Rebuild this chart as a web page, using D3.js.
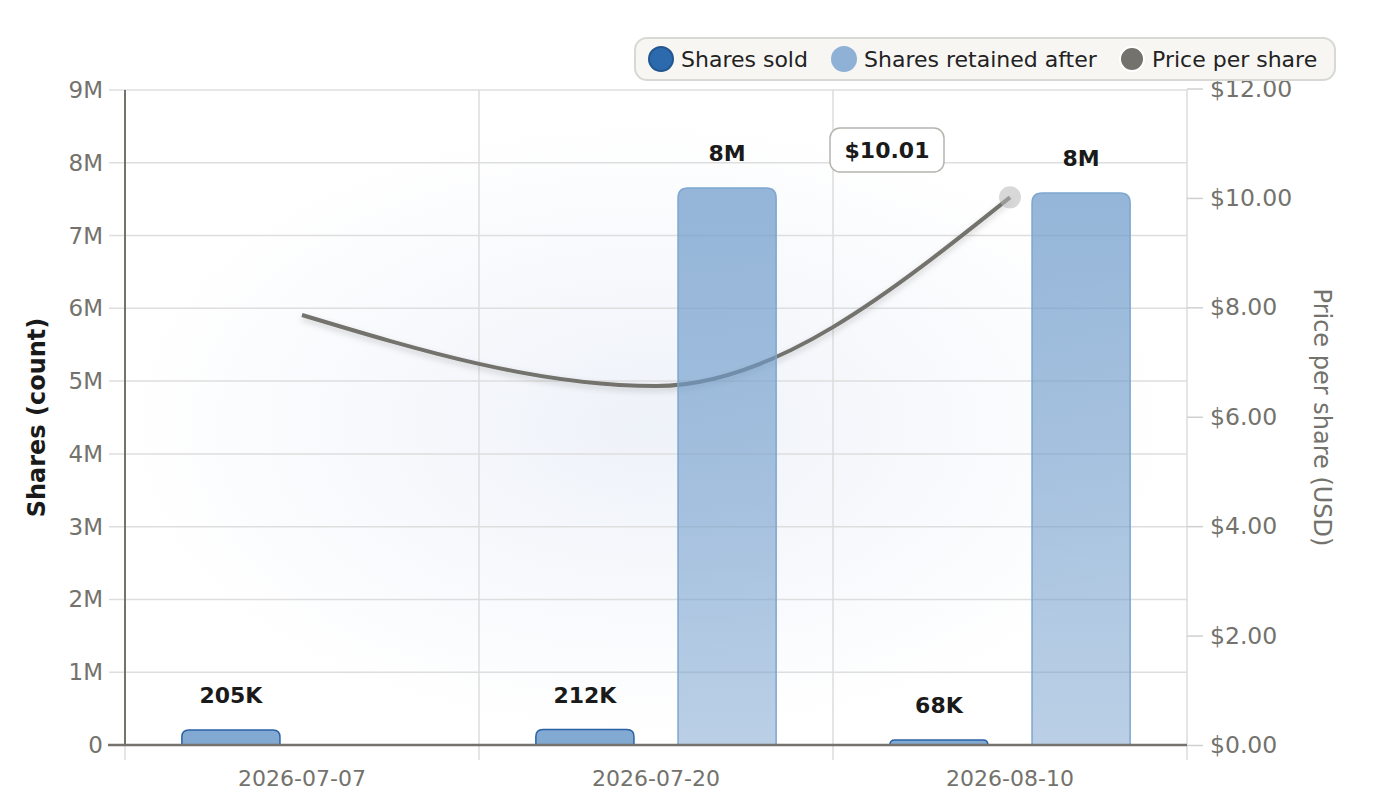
<!DOCTYPE html>
<html>
<head>
<meta charset="utf-8">
<script src="https://cdn.jsdelivr.net/npm/d3@7"></script>
<style>
  body { margin: 0; background: #fff; font-family: "DejaVu Sans", sans-serif; }
</style>
</head>
<body>
<script>
// chart data
var dates = ["2026-07-07", "2026-07-20", "2026-08-10"];
var sharesSold = [205000, 212000, 68000];
var sharesRetained = [null, 7653000, 7585000];
var pricePerShare = [7.86, 6.56, 10.01];
var shareTicks = [0, 1e6, 2e6, 3e6, 4e6, 5e6, 6e6, 7e6, 8e6, 9e6];
var priceTicks = [0, 2, 4, 6, 8, 10, 12];

var width = 1380, height = 808;
var margin = {top: 90, right: 193, bottom: 63, left: 125};

var svg = d3.select("body").append("svg")
    .attr("width", width)
    .attr("height", height);

var defs = svg.append("defs");

// soft background glow
var bg = defs.append("radialGradient").attr("id", "bgGlow")
    .attr("cx", "47%").attr("cy", "53%").attr("r", "38%");
bg.append("stop").attr("offset", "0%").attr("stop-color", "#eef2f9");
bg.append("stop").attr("offset", "100%").attr("stop-color", "#ffffff");
svg.append("rect").attr("width", width).attr("height", height).attr("fill", "url(#bgGlow)");

var retGrad = defs.append("linearGradient").attr("id", "retGrad")
    .attr("x1", 0).attr("y1", 0).attr("x2", 0).attr("y2", 1);
retGrad.append("stop").attr("offset", "0%").attr("stop-color", "rgb(112,156,203)").attr("stop-opacity", 0.74);
retGrad.append("stop").attr("offset", "100%").attr("stop-color", "rgb(112,156,203)").attr("stop-opacity", 0.48);

var shadow = defs.append("filter").attr("id", "lineShadow")
    .attr("x", "-10%").attr("y", "-30%").attr("width", "120%").attr("height", "160%");
shadow.append("feDropShadow").attr("dx", 0).attr("dy", 3).attr("stdDeviation", 3)
    .attr("flood-color", "#000").attr("flood-opacity", 0.18);

// scales
var x0 = d3.scaleBand()
    .domain(dates)
    .range([margin.left, width - margin.right]);

var x1 = d3.scaleBand()
    .domain(["sold", "retained"])
    .range([0, x0.bandwidth()])
    .paddingInner(0.31)
    .paddingOuter(0.4);

var yL = d3.scaleLinear().domain([0, 9e6]).range([height - margin.bottom, margin.top]);
var yR = d3.scaleLinear().domain([0, 12]).range([height - margin.bottom, margin.top - 1.5]);

var plotRight = width - margin.right;
var plotBottom = height - margin.bottom;

// horizontal grid
svg.append("g")
    .selectAll("line")
    .data(shareTicks)
    .enter().append("line")
    .attr("x1", margin.left - 16).attr("x2", plotRight)
    .attr("y1", d => yL(d)).attr("y2", d => yL(d))
    .attr("stroke", "#dedede").attr("stroke-width", 1.5);

// vertical band separators
var edges = dates.map(d => x0(d)).concat([plotRight]);
svg.append("g")
    .selectAll("line")
    .data(edges)
    .enter().append("line")
    .attr("x1", d => d).attr("x2", d => d)
    .attr("y1", margin.top).attr("y2", plotBottom + 15)
    .attr("stroke", "#dcdcdc").attr("stroke-width", 1.5);

// left axis
var fmtM = d => d === 0 ? "0" : (d / 1e6) + "M";
svg.append("g")
    .selectAll("text")
    .data(shareTicks)
    .enter().append("text")
    .attr("x", margin.left - 22)
    .attr("y", d => yL(d))
    .attr("dy", "0.35em")
    .attr("text-anchor", "end")
    .attr("font-size", 23)
    .attr("fill", "#73726c")
    .text(fmtM);

svg.append("line")
    .attr("x1", margin.left).attr("x2", margin.left)
    .attr("y1", margin.top).attr("y2", plotBottom)
    .attr("stroke", "#73726c").attr("stroke-width", 2);

// right axis
var rightAxis = d3.axisRight(yR)
    .tickValues(priceTicks)
    .tickSize(16)
    .tickPadding(7)
    .tickFormat(d3.format("$.2f"));
var gR = svg.append("g")
    .attr("transform", "translate(" + plotRight + ",0)")
    .call(rightAxis);
gR.select(".domain").remove();
gR.selectAll(".tick line").attr("stroke", "#d0d0d0").attr("stroke-width", 1.5);
gR.selectAll(".tick text")
    .attr("font-family", "DejaVu Sans")
    .attr("font-size", 23.5)
    .attr("fill", "#73726c");

// bottom axis labels
svg.append("g")
    .selectAll("text")
    .data(dates)
    .enter().append("text")
    .attr("x", d => x0(d) + x0.bandwidth() / 2)
    .attr("y", plotBottom + 41)
    .attr("text-anchor", "middle")
    .attr("font-size", 22)
    .attr("fill", "#73726c")
    .text(d => d);

// axis titles
svg.append("text")
    .attr("transform", "translate(45," + ((margin.top + plotBottom) / 2) + ") rotate(-90)")
    .attr("text-anchor", "middle")
    .attr("font-size", 24)
    .attr("font-weight", "bold")
    .attr("fill", "#1a1a1a")
    .text("Shares (count)");

svg.append("text")
    .attr("transform", "translate(1314," + ((margin.top + plotBottom) / 2) + ") rotate(90)")
    .attr("text-anchor", "middle")
    .attr("font-size", 24)
    .attr("fill", "#73726c")
    .text("Price per share (USD)");

// price line
var priceData = dates.map((d, i) => ({date: d, value: pricePerShare[i]}));
var line = d3.line()
    .x(d => x0(d.date) + x0.bandwidth() / 2)
    .y(d => yR(d.value))
    .curve(d3.curveMonotoneX);

svg.append("path")
    .datum(priceData)
    .attr("d", line)
    .attr("fill", "none")
    .attr("stroke", "#73726c")
    .attr("stroke-width", 4)
    .attr("filter", "url(#lineShadow)");

var last = priceData[priceData.length - 1];
svg.append("circle")
    .attr("cx", x0(last.date) + x0.bandwidth() / 2)
    .attr("cy", yR(last.value))
    .attr("r", 11)
    .attr("fill", "#b8b8b8")
    .attr("opacity", 0.55);

// bars with rounded tops
function topRounded(x, y, w, h, r) {
    r = Math.min(r, h, w / 2);
    return "M" + x + "," + (y + h) +
        "V" + (y + r) +
        "Q" + x + "," + y + " " + (x + r) + "," + y +
        "H" + (x + w - r) +
        "Q" + (x + w) + "," + y + " " + (x + w) + "," + (y + r) +
        "V" + (y + h) + "Z";
}

var fmtLabel = v => v >= 1e6 ? Math.round(v / 1e6) + "M" : Math.round(v / 1e3) + "K";

var soldData = dates.map((d, i) => ({date: d, value: sharesSold[i]}));
var retData = dates.map((d, i) => ({date: d, value: sharesRetained[i]})).filter(d => d.value != null);

svg.append("g").selectAll("path")
    .data(soldData)
    .enter().append("path")
    .attr("d", d => topRounded(x0(d.date) + x1("sold"), yL(d.value), x1.bandwidth(), plotBottom - yL(d.value), 7))
    .attr("fill", "#82a9d1")
    .attr("stroke", "#2a62a6")
    .attr("stroke-width", 1.5);

svg.append("g").selectAll("path")
    .data(retData)
    .enter().append("path")
    .attr("d", d => topRounded(x0(d.date) + x1("retained"), yL(d.value), x1.bandwidth(), plotBottom - yL(d.value), 10))
    .attr("fill", "url(#retGrad)")
    .attr("stroke", "#7ea6cf")
    .attr("stroke-width", 1.5);

// bar labels
var labelData = soldData.map(d => ({date: d.date, value: d.value, key: "sold"}))
    .concat(retData.map(d => ({date: d.date, value: d.value, key: "retained"})));
svg.append("g").selectAll("text")
    .data(labelData)
    .enter().append("text")
    .attr("x", d => x0(d.date) + x1(d.key) + x1.bandwidth() / 2)
    .attr("y", d => yL(d.value) - 27)
    .attr("text-anchor", "middle")
    .attr("font-size", 22)
    .attr("font-weight", "bold")
    .attr("fill", "#1a1a1a")
    .text(d => fmtLabel(d.value));

// bottom axis line
svg.append("line")
    .attr("x1", margin.left - 17).attr("x2", plotRight)
    .attr("y1", plotBottom).attr("y2", plotBottom)
    .attr("stroke", "#73726c").attr("stroke-width", 2.5);

// callout for the last price
var callout = svg.append("g").attr("transform", "translate(887,150)");
callout.append("rect")
    .attr("x", -57).attr("y", -22).attr("width", 114).attr("height", 44)
    .attr("rx", 10)
    .attr("fill", "#fff")
    .attr("stroke", "#b5b4ae")
    .attr("stroke-width", 1.5);
callout.append("text")
    .attr("text-anchor", "middle")
    .attr("dy", "0.35em")
    .attr("font-size", 22)
    .attr("font-weight", "bold")
    .attr("fill", "#1a1a1a")
    .text(d3.format("$.2f")(last.value));

// legend
var legendItems = [
    {label: "Shares sold", fill: "#2c6aad", stroke: "#23568f", x: 661},
    {label: "Shares retained after", fill: "#8fb1d5", stroke: "#8fb1d5", x: 844},
    {label: "Price per share", fill: "#73726c", stroke: "#ffffff", x: 1132}
];
var legend = svg.append("g");
legend.append("rect")
    .attr("x", 635).attr("y", 38).attr("width", 700).attr("height", 42)
    .attr("rx", 12)
    .attr("fill", "#f7f6f3")
    .attr("stroke", "#d8d8d5")
    .attr("stroke-width", 2);
var li = legend.selectAll("g.item")
    .data(legendItems)
    .enter().append("g")
    .attr("transform", d => "translate(" + d.x + ",59)");
li.append("circle")
    .attr("r", 12)
    .attr("fill", d => d.fill)
    .attr("stroke", d => d.stroke)
    .attr("stroke-width", 2);
li.append("text")
    .attr("x", 20)
    .attr("dy", "0.35em")
    .attr("font-size", 22)
    .attr("fill", "#222")
    .text(d => d.label);
</script>
</body>
</html>
